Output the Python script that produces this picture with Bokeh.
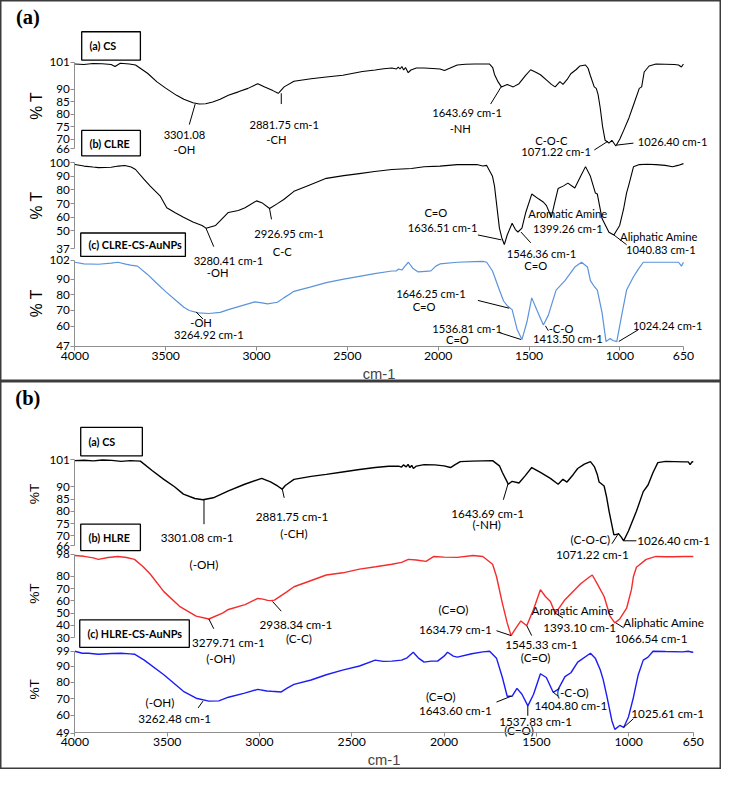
import math
from bokeh.plotting import figure
from bokeh.models import Range1d, LinearAxis, FixedTicker
from bokeh.layouts import column
from bokeh.core.properties import value
from bokeh.embed import file_html
from bokeh.resources import INLINE

S = 0.978
FONT = "Lato"
FONT_W = "Liberation Sans"
W_REF = 737

# ------------------------------------------------------------------ data
x_ticks = [4000, 3500, 3000, 2500, 2000, 1500, 1000, 650]

# panel (a) : CS
cs_a_wn = [4000, 3950, 3900, 3850, 3800, 3779, 3750, 3700, 3666, 3600, 3548, 3500, 3440, 3400, 3350, 3316,
           3280, 3241, 3200, 3155, 3100, 3047, 2993, 2955, 2910, 2881, 2875, 2848, 2794, 2700, 2616, 2525,
           2417, 2347, 2300, 2255, 2230, 2220, 2210, 2200, 2190, 2180, 2165, 2150, 2120, 2078, 2030, 1990,
           1965, 1940, 1895, 1850, 1800, 1717, 1700, 1690, 1670, 1652, 1620, 1587, 1555, 1520, 1491, 1460,
           1437, 1400, 1377, 1356, 1330, 1313, 1290, 1270, 1240, 1221, 1189, 1175, 1162, 1141, 1130, 1120,
           1108, 1095, 1081, 1060, 1044, 1022, 1000, 979, 950, 925, 893, 880, 866, 839, 801, 750, 700, 677,
           661, 650]
cs_a_t = [100.2, 100.0, 100.4, 100.3, 100.0, 99.2, 100.5, 100.2, 99.8, 96.5, 93.0, 90.5, 87.6, 86.0, 84.6, 84.1,
          84.2, 84.9, 86.0, 87.6, 89.0, 90.4, 92.3, 91.0, 89.5, 88.4, 88.8, 91.0, 93.3, 94.3, 95.0, 95.7,
          97.2, 97.8, 98.3, 98.6, 98.2, 99.0, 98.2, 99.2, 97.8, 98.8, 96.7, 97.8, 98.6, 98.6, 98.4, 98.2,
          97.6, 98.4, 99.8, 100.1, 100.2, 100.2, 98.8, 96.0, 93.0, 91.0, 92.0, 91.0, 92.3, 95.5, 97.9, 96.8,
          95.9, 93.5, 92.0, 91.0, 93.1, 92.0, 94.0, 96.3, 98.0, 99.4, 99.8, 98.5, 95.5, 91.0, 90.4, 88.0,
          82.5, 75.0, 69.5, 68.4, 69.5, 67.2, 70.0, 73.5, 78.5, 83.7, 90.4, 91.0, 97.0, 99.4, 100.2, 100.1, 100.0, 99.8,
          99.0, 100.2]

# panel (a) : CLRE
clre_wn = [4000, 3950, 3900, 3870, 3800, 3760, 3725, 3690, 3666, 3620, 3585, 3531, 3494, 3450, 3402, 3350,
           3300, 3278, 3225, 3155, 3100, 3063, 3000, 2971, 2928, 2885, 2850, 2794, 2724, 2616, 2520, 2434,
           2350, 2255, 2147, 2078, 1990, 1895, 1787, 1755, 1733, 1701, 1690, 1663, 1650, 1636, 1620, 1593,
           1575, 1561, 1539, 1518, 1485, 1448, 1420, 1404, 1377, 1360, 1340, 1310, 1286, 1248, 1216, 1189,
           1162, 1135, 1124, 1098, 1060, 1033, 1001, 979, 963, 952, 925, 893, 850, 801, 750, 710, 680, 650]
clre_t = [98.6, 97.5, 96.8, 96.4, 96.6, 97.5, 97.9, 96.8, 95.0, 88.0, 82.8, 75.7, 67.0, 63.5, 60.0, 56.5,
          54.0, 52.0, 54.0, 63.5, 65.0, 67.0, 72.0, 70.7, 66.4, 70.0, 73.0, 79.0, 82.8, 88.5, 90.5, 92.0,
          93.5, 95.0, 95.7, 97.0, 97.5, 98.6, 98.6, 97.5, 98.0, 90.0, 82.8, 52.0, 45.0, 40.0, 47.0, 55.6,
          51.0, 49.2, 52.0, 63.5, 77.0, 73.5, 71.0, 68.5, 60.0, 70.0, 81.0, 83.0, 85.0, 81.4, 90.0, 97.1,
          90.0, 77.8, 77.0, 59.0, 49.0, 47.0, 54.0, 66.4, 77.8, 83.0, 97.0, 98.6, 98.8, 98.6, 98.0, 97.0, 98.0, 99.3]

# panel (a) : CLRE-CS-AuNPs
clre_np_wn = [4000, 3950, 3870, 3800, 3763, 3720, 3693, 3655, 3600, 3548, 3500, 3440, 3400, 3370, 3320, 3262,
              3200, 3155, 3080, 3009, 2970, 2939, 2885, 2850, 2810, 2794, 2700, 2616, 2520, 2434, 2350, 2255,
              2230, 2217, 2200, 2185, 2164, 2140, 2110, 2070, 2040, 2013, 1990, 1895, 1800, 1755, 1733, 1701,
              1663, 1640, 1620, 1593, 1566, 1539, 1512, 1485, 1458, 1421, 1394, 1351, 1302, 1248, 1211, 1178,
              1162, 1141, 1124, 1098, 1076, 1054, 1038, 1017, 990, 963, 925, 898, 871, 800, 700, 677, 661, 650]
clre_np_t = [100.8, 99.8, 99.5, 100.2, 100.8, 99.6, 99.0, 98.3, 93.0, 87.2, 82.0, 76.0, 72.0, 69.9, 68.4, 68.0,
             68.7, 70.5, 73.0, 75.4, 74.8, 74.2, 75.2, 78.0, 81.0, 82.2, 85.0, 87.8, 90.0, 91.8, 93.5, 95.2,
             95.3, 96.5, 95.8, 98.0, 100.8, 97.0, 94.6, 95.0, 95.3, 98.3, 99.7, 100.8, 101.2, 101.4, 100.8, 95.2,
             83.0, 76.0, 73.0, 70.5, 58.0, 51.3, 62.4, 78.0, 70.5, 60.6, 66.8, 83.0, 89.0, 97.7, 100.8, 97.7,
             89.0, 85.3, 83.0, 68.6, 50.0, 52.0, 50.7, 50.0, 66.8, 83.0, 91.5, 96.4, 100.8, 100.8, 100.8, 100.8, 98.3, 100.8]

# panel (b) : CS
cs_b_wn = [4000, 3950, 3900, 3850, 3800, 3750, 3700, 3645, 3580, 3518, 3460, 3412, 3350, 3306, 3250, 3168,
           3080, 2988, 2940, 2900, 2877, 2860, 2813, 2720, 2638, 2550, 2458, 2373, 2300, 2246, 2230, 2220,
           2205, 2195, 2185, 2175, 2166, 2150, 2108, 2050, 2000, 1965, 1940, 1912, 1850, 1737, 1700, 1684,
           1665, 1652, 1631, 1594, 1560, 1525, 1478, 1424, 1382, 1356, 1334, 1300, 1276, 1240, 1207, 1186,
           1170, 1160, 1133, 1120, 1106, 1080, 1054, 1040, 1027, 1001, 958, 921, 895, 868, 842, 800, 750,
           700, 677, 667, 656, 650]
cs_b_t = [100.6, 100.8, 100.5, 100.9, 100.7, 100.3, 100.6, 100.4, 96.5, 93.0, 90.0, 87.0, 85.2, 84.7, 85.5, 88.3,
          91.0, 93.4, 92.0, 90.2, 89.0, 90.5, 93.0, 94.2, 95.0, 96.0, 97.0, 97.8, 98.3, 98.4, 98.0, 98.9,
          98.1, 99.1, 97.8, 98.7, 97.4, 98.4, 99.0, 98.9, 98.5, 97.8, 99.0, 100.2, 100.4, 100.6, 98.5, 95.8,
          93.0, 91.0, 92.2, 91.5, 94.5, 97.8, 95.8, 93.4, 91.0, 93.0, 91.9, 95.0, 97.4, 99.2, 100.2, 98.2,
          95.0, 91.9, 90.3, 86.0, 80.0, 70.4, 70.8, 69.5, 68.0, 72.0, 80.0, 88.0, 90.7, 95.8, 99.8, 100.3, 100.2,
          100.1, 100.1, 99.0, 100.2, 100.0]

# panel (b) : HLRE
hlre_wn = [4000, 3950, 3900, 3873, 3820, 3767, 3720, 3677, 3630, 3592, 3518, 3433, 3343, 3274, 3200, 3168,
           3078, 3009, 2980, 2956, 2938, 2919, 2850, 2813, 2723, 2638, 2548, 2458, 2370, 2283, 2230, 2193,
           2150, 2098, 2055, 2000, 1928, 1843, 1790, 1737, 1716, 1684, 1658, 1637, 1610, 1584, 1552, 1515,
           1478, 1451, 1424, 1398, 1382, 1345, 1292, 1260, 1213, 1197, 1170, 1133, 1101, 1075, 1048, 1011,
           985, 974, 958, 905, 852, 800, 762, 700, 656, 650]
hlre_t = [97.2, 96.5, 95.2, 94.0, 95.5, 96.4, 95.5, 94.0, 88.0, 82.0, 67.6, 55.6, 47.6, 45.2, 50.0, 53.0,
          57.0, 62.0, 61.5, 60.4, 60.2, 60.6, 67.6, 71.6, 76.5, 81.2, 83.0, 86.0, 88.0, 90.0, 91.5, 94.0,
          93.5, 92.4, 96.4, 95.8, 95.6, 97.2, 96.4, 90.0, 80.0, 58.0, 42.0, 31.6, 38.0, 43.6, 39.6, 53.2,
          69.2, 63.6, 59.6, 50.0, 53.0, 61.0, 69.2, 74.0, 79.6, 81.2, 74.0, 63.6, 47.6, 42.0, 45.2, 54.0,
          69.2, 80.0, 87.6, 94.0, 96.4, 96.2, 96.2, 96.4, 96.3, 96.5]

# panel (b) : HLRE-CS-AuNPs
hlre_np_wn = [4000, 3960, 3926, 3873, 3800, 3751, 3700, 3677, 3624, 3518, 3412, 3343, 3274, 3220, 3168, 3080,
              3009, 2960, 2935, 2882, 2850, 2813, 2720, 2638, 2550, 2458, 2373, 2330, 2283, 2230, 2200, 2167,
              2140, 2108, 2070, 2035, 2000, 1981, 1950, 1928, 1850, 1790, 1753, 1716, 1684, 1658, 1631, 1605,
              1578, 1546, 1515, 1478, 1446, 1409, 1382, 1345, 1313, 1276, 1207, 1181, 1154, 1138, 1117, 1091,
              1075, 1048, 1027, 1001, 974, 948, 921, 895, 868, 800, 709, 677, 656, 650]
hlre_np_t = [99.0, 97.8, 97.8, 97.2, 97.6, 97.8, 97.4, 97.2, 93.6, 84.7, 74.6, 70.4, 68.6, 68.8, 71.0, 73.5,
             75.8, 74.8, 74.6, 74.2, 76.5, 78.8, 81.5, 84.7, 87.5, 90.0, 93.6, 92.8, 93.0, 93.6, 95.0, 98.4,
             95.0, 92.4, 93.0, 93.0, 96.0, 98.4, 96.0, 95.4, 97.5, 98.6, 99.0, 94.8, 83.0, 71.6, 71.6, 76.4,
             72.8, 65.7, 72.8, 85.3, 83.0, 74.0, 75.8, 83.5, 85.9, 92.4, 97.8, 94.8, 87.7, 81.7, 71.0, 56.7,
             51.4, 53.8, 52.6, 59.0, 71.0, 84.7, 93.6, 95.4, 99.0, 98.8, 98.6, 99.0, 98.4, 98.6]

# y tick values of every stacked axis
ticks_cs = [101, 90, 85, 80, 75, 70, 66]
ticks_clre = [100, 90, 80, 70, 60, 50, 37]
ticks_clre_np = [102, 90, 80, 70, 60, 47]
ticks_hlre = [98, 80, 70, 60, 50, 40, 30]
ticks_hlre_np = [99, 90, 80, 70, 60, 49]

# ------------------------------------------------------------------ layout helpers (reference pixels)
def fs(px):
    return value(f"{px * S:.1f}px")


def make_panel(top, bottom, a_scale, axis_y, spectra, boxes, ylabels, ylab_size, ann_text, ann_lines,
               ann_size, letter):
    H = bottom - top
    p = figure(width=round(W_REF * S), height=round(H * S),
               x_range=Range1d(0, W_REF), y_range=Range1d(bottom, top),
               x_axis_type=None, y_axis_type=None, output_backend="svg",
               toolbar_location=None, min_border=0)
    p.outline_line_color = "#3c3c3c"
    p.outline_line_width = 2
    p.background_fill_color = "white"
    p.border_fill_color = "white"

    def wn_at(px):
        return 4000 - (px - 76) / a_scale

    p.extra_x_ranges = {"wn": Range1d(wn_at(0), wn_at(W_REF))}

    for sp in spectra:
        name = sp["name"]
        k = (sp["v_top"] - sp["v_bot"]) / (sp["py_bot"] - sp["py_top"])

        def v_at(py, sp=sp, k=k):
            return sp["v_top"] - (py - sp["py_top"]) * k

        p.extra_y_ranges[name] = Range1d(v_at(bottom), v_at(top))
        p.line(sp["wn"], sp["t"], x_range_name="wn", y_range_name=name,
               line_color=sp["color"], line_width=sp["lw"])
        ax = LinearAxis(y_range_name=name, fixed_location=76, bounds=(sp["v_bot"], sp["v_top"]),
                        ticker=FixedTicker(ticks=sp["ticks"], minor_ticks=[]))
        ax.axis_line_color = "#8f8f8f"
        ax.major_tick_line_color = "#8f8f8f"
        ax.major_tick_out = 4
        ax.major_tick_in = 0
        ax.minor_tick_out = 0
        ax.minor_tick_in = 0
        ax.major_label_standoff = 1
        ax.major_label_text_font = FONT
        ax.major_label_text_font_size = f"{12 * S:.1f}px"
        ax.major_label_text_color = "black"
        p.add_layout(ax, "left")

    xa = LinearAxis(x_range_name="wn", fixed_location=axis_y, bounds=(650, 4000),
                    ticker=FixedTicker(ticks=x_ticks, minor_ticks=[]))
    xa.axis_line_color = "#8f8f8f"
    xa.major_tick_line_color = "#8f8f8f"
    xa.major_tick_out = 4
    xa.major_tick_in = 0
    xa.minor_tick_out = 0
    xa.minor_tick_in = 0
    xa.major_label_standoff = 2
    xa.major_label_text_font = FONT
    xa.major_label_text_font_size = f"{12.5 * S:.1f}px"
    xa.major_label_text_color = "black"
    xa.axis_label = "cm-1"
    xa.axis_label_text_font = FONT_W
    xa.axis_label_text_font_style = "normal"
    xa.axis_label_text_font_size = f"{15 * S:.1f}px"
    xa.axis_label_standoff = 2
    p.add_layout(xa, "below")

    # sample boxes
    p.quad(left=[b[0] for b in boxes], right=[b[1] for b in boxes],
           top=[b[2] for b in boxes], bottom=[b[3] for b in boxes],
           fill_color="white", line_color="black", line_width=1.3)
    p.text(x=[b[0] + 8 for b in boxes], y=[(b[2] + b[3]) / 2 for b in boxes],
           text=[b[4] for b in boxes], text_font=value(FONT), text_font_style="bold",
           text_font_size=fs(11), text_align="left", text_baseline="middle", text_color="black")

    # %T labels
    p.text(x=[l[0] for l in ylabels], y=[l[1] for l in ylabels], text=[l[2] for l in ylabels],
           angle=math.pi / 2, text_font=value(FONT_W), text_font_size=fs(ylab_size),
           text_align="center", text_baseline="middle", text_color="black")

    # peak annotations
    p.segment(x0=[s[0] for s in ann_lines], y0=[s[1] for s in ann_lines],
              x1=[s[2] for s in ann_lines], y1=[s[3] for s in ann_lines],
              line_color="black", line_width=1)
    p.text(x=[t[0] for t in ann_text], y=[t[1] for t in ann_text], text=[t[2] for t in ann_text],
           text_font=value(FONT), text_font_size=fs(ann_size), text_align="center",
           text_baseline="middle", text_color="black")

    # panel letter
    p.text(x=[28], y=[top + 17], text=[letter], text_font=value("Liberation Serif"),
           text_font_style="bold", text_font_size=fs(21), text_align="center",
           text_baseline="middle", text_color="black")
    return p


spectra_a = [
    dict(name="cs_a", wn=cs_a_wn, t=cs_a_t, v_top=101, py_top=63, v_bot=66, py_bot=152,
         ticks=ticks_cs, color="black", lw=1.1),
    dict(name="clre", wn=clre_wn, t=clre_t, v_top=100, py_top=166, v_bot=37, py_bot=254,
         ticks=ticks_clre, color="black", lw=1.1),
    dict(name="clre_np", wn=clre_np_wn, t=clre_np_t, v_top=102, py_top=266, v_bot=47, py_bot=354,
         ticks=ticks_clre_np, color="#5b93dc", lw=1.2),
]
boxes_a = [(83, 143, 32, 61, "(a) CS"), (83, 143, 133, 159, "(b) CLRE"),
           (82, 189, 238, 262, "(c) CLRE-CS-AuNPs")]
ylabels_a = [(37, 108, "% T"), (37, 210, "% T"), (37, 310, "% T")]
ann_text_a = [
    (188, 138, "3301.08"), (188, 153, "-OH"),
    (290, 127, "2881.75 cm-1"), (282, 142, "-CH"),
    (477, 115, "1643.69 cm-1"), (470, 131, "-NH"),
    (563, 143, "C-O-C"), (568, 155, "1071.22 cm-1"),
    (687, 144, "1026.40 cm-1"),
    (233, 266, "3280.41 cm-1"), (222, 278, "-OH"),
    (295, 238, "2926.95 cm-1"), (288, 257, "C-C"),
    (445, 217, "C=O"), (452, 232, "1636.51 cm-1"),
    (580, 218, "Aromatic Amine"), (580, 233, "1399.26 cm-1"),
    (553, 259, "1546.36 cm-1"), (547, 271, "C=O"),
    (673, 242, "Aliphatic Amine"), (675, 255, "1040.83 cm-1"),
    (205, 330, "-OH"), (213, 342, "3264.92 cm-1"),
    (440, 300, "1646.25 cm-1"), (433, 313, "C=O"),
    (477, 336, "1536.81 cm-1"), (467, 347, "C=O"),
    (573, 336, "-C-O"), (580, 346, "1413.50 cm-1"),
    (682, 333, "1024.24 cm-1"),
]
ann_lines_a = [
    (199, 106, 193, 127), (287, 95, 287, 106), (512, 88, 501, 106), (607, 153, 621, 144),
    (630, 148, 647, 146),
    (210, 233, 218, 252), (275, 213, 277, 224), (488, 240, 512, 245), (532, 237, 542, 248),
    (627, 240, 640, 250),
    (200, 319, 207, 326), (488, 307, 520, 315), (510, 340, 532, 347), (557, 333, 560, 338),
    (632, 349, 652, 337),
]

spectra_b = [
    dict(name="cs_b", wn=cs_b_wn, t=cs_b_t, v_top=101, py_top=470, v_bot=66, py_bot=558,
         ticks=ticks_cs, color="black", lw=1.4),
    dict(name="hlre", wn=hlre_wn, t=hlre_t, v_top=98, py_top=567, v_bot=30, py_bot=652,
         ticks=ticks_hlre, color="#f52c2c", lw=1.4),
    dict(name="hlre_np", wn=hlre_np_wn, t=hlre_np_t, v_top=99, py_top=666, v_bot=49, py_bot=750,
         ticks=ticks_hlre_np, color="#1c1cf5", lw=1.4),
]
boxes_b = [(82, 145, 437, 466, "(a) CS"), (82, 143, 536, 563, "(b) HLRE"),
           (81, 193, 634, 662, "(c) HLRE-CS-AuNPs")]
ylabels_b = [(35, 505, "%T"), (35, 607, "%T"), (35, 705, "%T")]
ann_text_b = [
    (201, 549, "3301.08 cm-1"), (208, 577, "(-OH)"),
    (298, 528, "2881.75 cm-1"), (300, 545, "(-CH)"),
    (498, 525, "1643.69 cm-1"), (497, 536, "(-NH)"),
    (603, 551, "(C-O-C)"), (605, 566, "1071.22 cm-1"),
    (688, 552, "1026.40 cm-1"),
    (233, 657, "3279.71 cm-1"), (225, 673, "(-OH)"),
    (302, 638, "2938.34 cm-1"), (305, 652, "(C-C)"),
    (463, 623, "(C=O)"), (465, 643, "1634.79 cm-1"),
    (553, 659, "1545.33 cm-1"), (547, 672, "(C=O)"),
    (585, 624, "Aromatic Amine"), (592, 641, "1393.10 cm-1"),
    (678, 636, "Aliphatic Amine"), (665, 652, "1066.54 cm-1"),
    (163, 718, "(-OH)"), (178, 734, "3262.48 cm-1"),
    (450, 712, "(C=O)"), (465, 726, "1643.60 cm-1"),
    (547, 737, "1537.83 cm-1"), (530, 747, "(C=O)"),
    (585, 708, "(-C-O)"), (583, 721, "1404.80 cm-1"),
    (682, 729, "1025.61 cm-1"),
]
ann_lines_b = [
    (208, 511, 208, 536), (288, 500, 290, 509), (519, 494, 514, 511), (625, 556, 632, 545),
    (637, 553, 650, 553),
    (213, 633, 218, 643), (278, 615, 287, 625), (507, 645, 522, 650), (538, 640, 543, 650),
    (567, 627, 575, 632), (629, 637, 637, 642),
    (207, 717, 202, 724), (507, 718, 522, 712), (539, 722, 539, 732), (565, 708, 570, 712),
    (637, 744, 647, 735),
]

pa = make_panel(0, 390, 0.1857, 354, spectra_a, boxes_a, ylabels_a, 16, ann_text_a, ann_lines_a,
                11.5, "(a)")
pb = make_panel(390, 787, 0.1887, 749, spectra_b, boxes_b, ylabels_b, 14, ann_text_b, ann_lines_b,
                12, "(b)")

layout = column(pa, pb, spacing=0)
open("out.html", "w").write(file_html(layout, INLINE))
